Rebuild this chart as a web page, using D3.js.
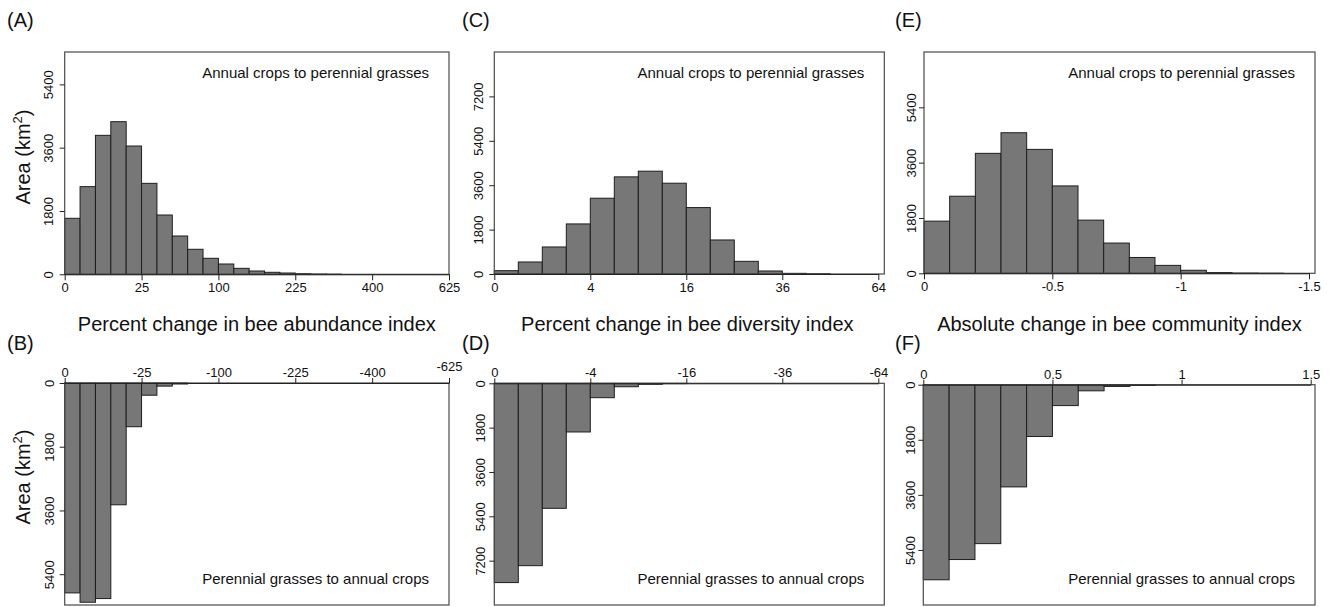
<!DOCTYPE html>
<html><head><meta charset="utf-8">
<script src="https://cdn.jsdelivr.net/npm/d3@7"></script>
<style>
body{margin:0;background:#fff}
svg text{font-family:"Liberation Sans",Arial,Helvetica,sans-serif;fill:#111}
</style>
</head><body>
<svg id="chart" width="1332" height="607"></svg>
<script>
// ---------- data ----------
const abundanceTicks = [0, 25, 100, 225, 400, 625];
const diversityTicks = [0, 4, 16, 36, 64];
const communityTicks = [0, 0.5, 1, 1.5];
const areaTicks6300 = [0, 1800, 3600, 5400];
const areaTicks9000 = [0, 1800, 3600, 5400, 7200];
const areaTicks7200 = [0, 1800, 3600, 5400];

// Area (km2) per bin; abundance bins are 1 unit wide on the sqrt axis,
// diversity bins 0.5 unit on the sqrt axis, community bins 0.1 wide (linear)
const abundanceToPerennial = [1592, 2492, 3951, 4339, 3647, 2586, 1686, 1089, 711, 455, 293, 170, 94, 57, 37, 17, 8, 4];
const abundanceToAnnual    = [5928, 6192, 6088, 3440, 1235, 345, 88, 28];
const diversityToPerennial = [135, 487, 1096, 2030, 3072, 3938, 4168, 3681, 2693, 1380, 514, 122, 27, 10];
const diversityToAnnual    = [8090, 7403, 5075, 1976, 584, 140, 40, 12];
const communityToPerennial = [1697, 2508, 3903, 4573, 4032, 2843, 1730, 984, 515, 258, 98, 25, 8, 3];
const communityToAnnual    = [6376, 5714, 5194, 3340, 1692, 683, 200, 56, 18];

const panelLetters = ["(A)", "(B)", "(C)", "(D)", "(E)", "(F)"];
const titles = ["Percent change in bee abundance index", "Percent change in bee diversity index", "Absolute change in bee community index"];
const noteUp = "Annual crops to perennial grasses";
const noteDown = "Perennial grasses to annual crops";

// ---------- layout ----------
const panels = [
  {letter:0, vals:abundanceToPerennial, ticks:abundanceTicks, sign:"", xType:"sqrt", step:1, yMax:6320, yTicks:areaTicks6300, dir:"up",
   box:{l:64.7, r:449, t:52, b:274.3}, xEnd:449, lab:{x:7, y:27}, ylabOff:12, area:{x:30, y:157}},
  {letter:1, vals:abundanceToAnnual, ticks:abundanceTicks, sign:"-", xType:"sqrt", step:1, yMax:6270, yTicks:areaTicks6300, dir:"down",
   box:{l:64.7, r:449, t:383, b:605}, xEnd:449, lab:{x:7, y:350}, ylabOff:11, area:{x:30, y:477}, liftLast:6},
  {letter:2, vals:diversityToPerennial, ticks:diversityTicks, sign:"", xType:"sqrt", step:0.5, yMax:9000, yTicks:areaTicks9000, dir:"up",
   box:{l:494.3, r:884.3, t:52, b:274}, xEnd:878.3, lab:{x:462, y:27}, ylabOff:11},
  {letter:3, vals:diversityToAnnual, ticks:diversityTicks, sign:"-", xType:"sqrt", step:0.5, yMax:9000, yTicks:areaTicks9000, dir:"down",
   box:{l:494.3, r:884.3, t:383.3, b:605}, xEnd:878.3, lab:{x:462, y:350}, ylabOff:9.5},
  {letter:4, vals:communityToPerennial, ticks:communityTicks, sign:"-", xType:"linear", step:0.1, yMax:7200, yTicks:areaTicks7200, dir:"up",
   box:{l:924, r:1315, t:52, b:273.3}, xEnd:1309, lab:{x:895, y:27}, ylabOff:8},
  {letter:5, vals:communityToAnnual, ticks:communityTicks, sign:"", xType:"linear", step:0.1, yMax:7200, yTicks:areaTicks7200, dir:"down",
   box:{l:923.3, r:1315, t:384.7, b:605}, xEnd:1310.7, lab:{x:895, y:350}, ylabOff:8.5}
];

const svg = d3.select("#chart");
const fmtNum = d3.format("");

panels.forEach(p => {
  const g = svg.append("g");
  const B = p.box;
  const maxTick = p.ticks[p.ticks.length - 1];
  const x = (p.xType === "sqrt" ? d3.scaleSqrt() : d3.scaleLinear())
    .domain([0, maxTick]).range([B.l, p.xEnd]);
  const y = d3.scaleLinear().domain([0, p.yMax])
    .range(p.dir === "up" ? [B.b, B.t] : [B.t, B.b]);

  const edge = k => p.xType === "sqrt" ? Math.pow(k * p.step, 2) : k * p.step;

  // bars
  g.selectAll("rect.bar").data(p.vals).join("rect")
    .attr("class", "bar")
    .attr("x", (d, i) => x(edge(i)))
    .attr("width", (d, i) => x(edge(i + 1)) - x(edge(i)))
    .attr("y", d => p.dir === "up" ? y(d) : B.t)
    .attr("height", d => Math.max(0, p.dir === "up" ? B.b - y(d) : y(d) - B.t))
    .attr("fill", "#777777")
    .attr("stroke", "#1e1e1e")
    .attr("stroke-width", 1);

  // box
  g.append("rect")
    .attr("x", B.l).attr("y", B.t)
    .attr("width", B.r - B.l).attr("height", B.b - B.t)
    .attr("fill", "none").attr("stroke", "#4a4a4a").attr("stroke-width", 1.2);

  // x axis
  const fmt = v => v === 0 ? "0" : p.sign + fmtNum(v);
  const xAxis = (p.dir === "up" ? d3.axisBottom(x) : d3.axisTop(x))
    .tickValues(p.ticks).tickFormat(fmt)
    .tickSize(p.dir === "up" ? 6 : 5).tickSizeOuter(0)
    .tickPadding(p.dir === "up" ? 2.5 : 1);
  const gx = g.append("g")
    .attr("transform", `translate(0,${p.dir === "up" ? B.b : B.t})`)
    .call(xAxis);
  gx.select(".domain").attr("stroke", "#222");
  gx.selectAll(".tick line").attr("stroke", "#222");
  gx.selectAll("text").attr("font-size", 13).attr("fill", "#111")
    .attr("font-family", "Liberation Sans, Arial, sans-serif");
  if (p.liftLast) {
    gx.selectAll(".tick").filter(d => d === maxTick).select("text")
      .attr("y", -6 - p.liftLast);
  }

  // y axis
  const yAxis = d3.axisLeft(y).tickValues(p.yTicks).tickFormat(fmtNum)
    .tickSize(5).tickSizeOuter(0);
  const gy = g.append("g").attr("transform", `translate(${B.l},0)`).call(yAxis);
  gy.select(".domain").remove();
  gy.selectAll(".tick line").attr("stroke", "#222");
  gy.selectAll("text")
    .attr("font-size", 13).attr("fill", "#111")
    .attr("font-family", "Liberation Sans, Arial, sans-serif")
    .attr("transform", "rotate(-90)")
    .attr("x", 0).attr("y", -p.ylabOff).attr("dy", null)
    .attr("text-anchor", "middle");

  // panel letter
  svg.append("text").attr("x", p.lab.x).attr("y", p.lab.y)
    .attr("font-size", 20).text(panelLetters[p.letter]);

  // note
  svg.append("text")
    .attr("x", B.r - 20)
    .attr("y", p.dir === "up" ? B.t + 25.5 : B.b - 21)
    .attr("text-anchor", "end").attr("font-size", 15)
    .text(p.dir === "up" ? noteUp : noteDown);

  // area label
  if (p.area) {
    const t = svg.append("text")
      .attr("transform", `translate(${p.area.x},${p.area.y}) rotate(-90)`)
      .attr("text-anchor", "middle").attr("font-size", 20);
    t.append("tspan").text("Area (km");
    t.append("tspan").attr("font-size", 13).attr("dy", -8).text("2");
    t.append("tspan").attr("dy", 8).text(")");
  }
});

// column titles
const titleCenters = [
  (panels[0].box.l + panels[0].box.r) / 2,
  (panels[2].box.l + panels[2].box.r) / 2 - 2,
  (panels[4].box.l + panels[4].box.r) / 2
];
titles.forEach((t, i) => {
  svg.append("text").attr("x", titleCenters[i]).attr("y", 330.7)
    .attr("text-anchor", "middle").attr("font-size", 20).text(t);
});
</script>
</body></html>
